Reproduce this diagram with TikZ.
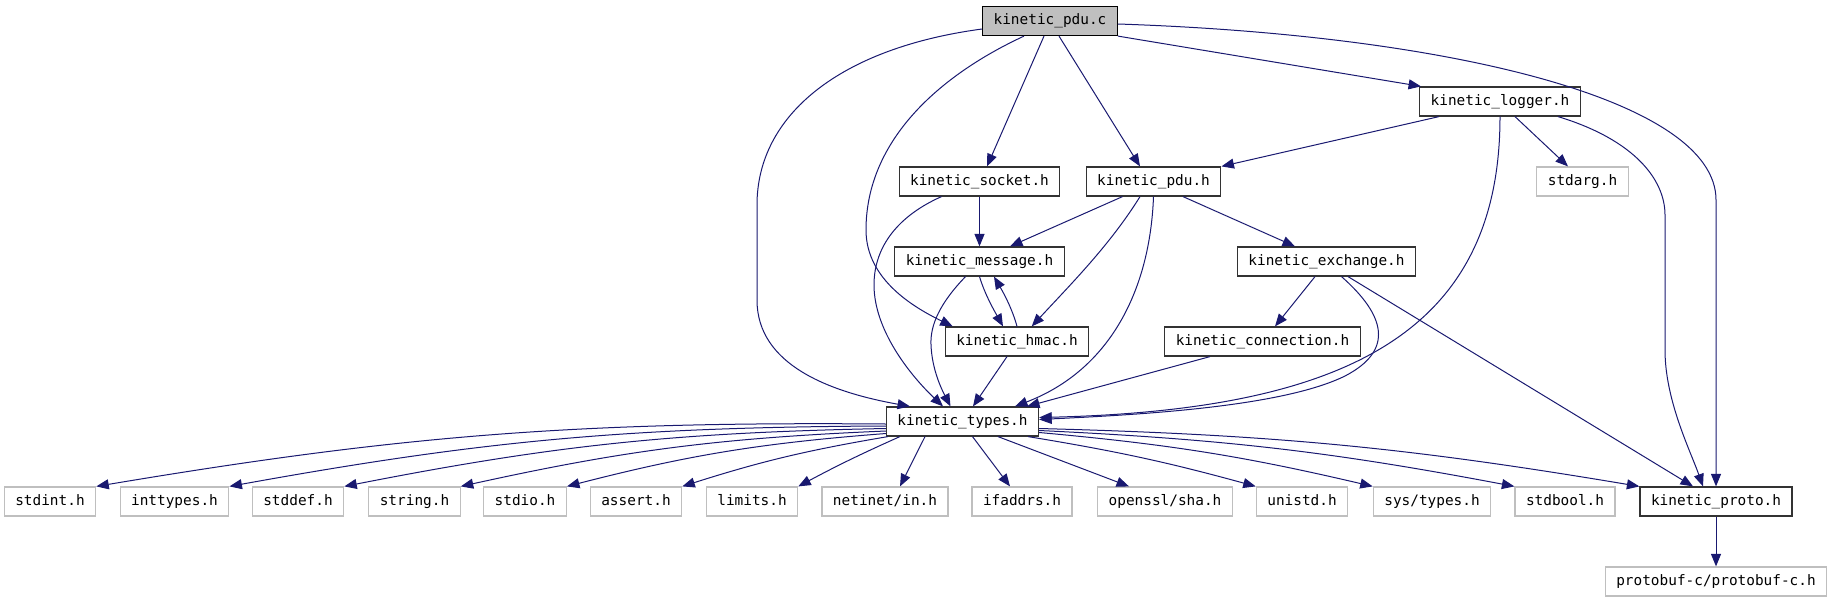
\documentclass[tikz,border=0pt]{standalone}
\usepackage{fontspec}
\usepackage{tikz}
\usetikzlibrary{arrows.meta}
\newfontfamily\dxmono{DejaVu Sans Mono}
\definecolor{edgeblue}{HTML}{191970}
\definecolor{sysgray}{HTML}{BFBFBF}

\begin{document}
\begin{tikzpicture}[x=1pt, y=-1pt, >={Triangle[length=12.5pt, width=10pt]},
        main/.style = {draw=black!80, line width=1.2pt, fill=white, font=\dxmono\fontsize{14.4}{17}\selectfont,
                       minimum height=29pt, inner xsep=11pt, text height=10.5pt, text depth=3pt},
        sys/.style = {main, draw=sysgray},
        current/.style = {main, draw=black, fill=sysgray},
        dep/.style = {->, color=edgeblue, line width=1pt}]
    \useasboundingbox (0,0) rectangle (1833,603);

    % project headers
    \node[current] (pduc) at (1050,21) {kinetic\_pdu.c};
    \node[main] (logger) at (1500,101.5) {kinetic\_logger.h};
    \node[main] (socket) at (979.5,181.5) {kinetic\_socket.h};
    \node[main] (pduh) at (1153.5,181.5) {kinetic\_pdu.h};
    \node[sys] (stdarg) at (1582.5,181.5) {stdarg.h};
    \node[main] (message) at (979.5,261.5) {kinetic\_message.h};
    \node[main] (exchange) at (1326.5,261.5) {kinetic\_exchange.h};
    \node[main] (hmac) at (1017,341.5) {kinetic\_hmac.h};
    \node[main] (connection) at (1262.5,341.5) {kinetic\_connection.h};
    \node[main] (types) at (962.5,421.5) {kinetic\_types.h};

    % bottom row
    \node[sys] (stdint) at (50,501.5) {stdint.h};
    \node[sys] (inttypes) at (174.5,501.5) {inttypes.h};
    \node[sys] (stddef) at (298,501.5) {stddef.h};
    \node[sys] (string) at (414.5,501.5) {string.h};
    \node[sys] (stdio) at (525,501.5) {stdio.h};
    \node[sys] (assert) at (636,501.5) {assert.h};
    \node[sys] (limits) at (752,501.5) {limits.h};
    \node[sys] (netinet) at (885,501.5) {netinet/in.h};
    \node[sys] (ifaddrs) at (1022,501.5) {ifaddrs.h};
    \node[sys] (sha) at (1165,501.5) {openssl/sha.h};
    \node[sys] (unistd) at (1302,501.5) {unistd.h};
    \node[sys] (systypes) at (1432,501.5) {sys/types.h};
    \node[sys] (stdbool) at (1565,501.5) {stdbool.h};
    \node[main] (proto) at (1716,501.5) {kinetic\_proto.h};
    \node[sys] (protobuf) at (1716,581.5) {protobuf-c/protobuf-c.h};

    % kinetic_pdu.c
    \draw[dep] ([yshift=-8pt]pduc.west) .. controls (840,48) and (757,115) .. (757,205) -- (757,300)
        .. controls (757,365) and (830,392) .. ([xshift=-52.5pt]types.north);
    \draw[dep] ([xshift=-26pt]pduc.south) .. controls (940,75) and (866,140) .. (866,230)
        .. controls (866,280) and (915,308) .. ([xshift=8pt]hmac.north west);
    \path[dep] ([xshift=-6pt]pduc.south) edge ([xshift=7.5pt]socket.north);
    \path[dep] ([xshift=9pt]pduc.south) edge ([xshift=-13.5pt]pduh.north);
    \path[dep] (pduc.south east) edge ([xshift=2pt]logger.north west);
    \draw[dep] ([yshift=-3pt]pduc.east) .. controls (1450,35) and (1716,100) .. (1716,200) -- (proto.north);

    % kinetic_logger.h
    \path[dep] ([xshift=-61pt]logger.south) edge (pduh.north east);
    \draw[dep] (logger.south) .. controls (1500,330) and (1350,410) .. ([yshift=4pt]types.east);
    \path[dep] ([xshift=15pt]logger.south) edge ([xshift=-14.5pt]stdarg.north);
    \draw[dep] ([xshift=58pt]logger.south) .. controls (1635,140) and (1665,180) .. (1665,215) -- (1665,350)
        .. controls (1665,400) and (1690,450) .. ([xshift=-13pt]proto.north);

    % kinetic_socket.h
    \path[dep] (socket.south) edge (message.north);
    \draw[dep] ([xshift=-38pt]socket.south) .. controls (900,215) and (874,245) .. (874,285)
        .. controls (874,330) and (910,375) .. ([xshift=-19.5pt]types.north);

    % kinetic_message.h and kinetic_hmac.h
    \draw[dep] (message.south) .. controls (985,295) and (995,312) .. ([xshift=-14pt]hmac.north);
    \draw[dep] ([xshift=-14pt]message.south) .. controls (940,303) and (930,325) .. (931,345)
        .. controls (932,370) and (942,390) .. ([xshift=-12pt]types.north);
    \draw[dep] (hmac.north) .. controls (1012,308) and (1003,292) .. ([xshift=14.5pt]message.south);
    \path[dep] ([xshift=-10pt]hmac.south) edge ([xshift=10.5pt]types.north);

    % kinetic_pdu.h
    \path[dep] ([xshift=-31pt]pduh.south) edge ([xshift=30.5pt]message.north);
    \draw[dep] ([xshift=-13.5pt]pduh.south) .. controls (1110,245) and (1070,285) .. ([xshift=14.7pt]hmac.north);
    \draw[dep] (pduh.south) .. controls (1150,290) and (1110,370) .. ([xshift=52.5pt]types.north);
    \path[dep] ([xshift=29.5pt]pduh.south) edge ([xshift=-31.5pt]exchange.north);

    % kinetic_exchange.h and kinetic_connection.h
    \path[dep] ([xshift=-11.5pt]exchange.south) edge ([xshift=12.5pt]connection.north);
    \draw[dep] ([xshift=15pt]exchange.south) .. controls (1385,315) and (1395,350) .. (1345,376)
        .. controls (1280,408) and (1130,415) .. ([yshift=2pt]types.east);
    \path[dep] ([xshift=21.5pt]exchange.south) edge ([xshift=-23pt]proto.north);
    \path[dep] ([xshift=-52.5pt]connection.south) edge ([xshift=64.5pt]types.north);

    % kinetic_types.h
    \path[dep] ([yshift=-2.5pt]types.west) edge[bend right=5] (stdint.north east);
    \path[dep] ([yshift=-4.5pt]types.west) edge[bend right=5] (inttypes.north east);
    \path[dep] ([yshift=-7pt]types.west) edge[bend right=5] (stddef.north east);
    \path[dep] ([yshift=-9.5pt]types.west) edge[bend right=5] (string.north east);
    \path[dep] ([yshift=-12pt]types.west) edge[bend right=5] (stdio.north east);
    \path[dep] ([xshift=2pt]types.south west) edge[bend right=4] (assert.north east);
    \path[dep] ([xshift=14pt]types.south west) edge[bend right=2] (limits.north east);
    \path[dep] ([xshift=-37.5pt]types.south) edge ([xshift=15pt]netinet.north);
    \path[dep] ([xshift=10pt]types.south) edge ([xshift=-12pt]ifaddrs.north);
    \path[dep] ([xshift=35.5pt]types.south) edge ([xshift=-36pt]sha.north);
    \path[dep] ([xshift=-11pt]types.south east) edge[bend left=3] (unistd.north west);
    \path[dep] ([yshift=-11pt]types.east) edge[bend left=4] (systypes.north west);
    \path[dep] ([yshift=-9pt]types.east) edge[bend left=4] (stdbool.north west);
    \path[dep] ([yshift=-7pt]types.east) edge[bend left=4] (proto.north west);

    % kinetic_proto.h
    \path[dep] (proto.south) edge (protobuf.north);
\end{tikzpicture}
\end{document}
